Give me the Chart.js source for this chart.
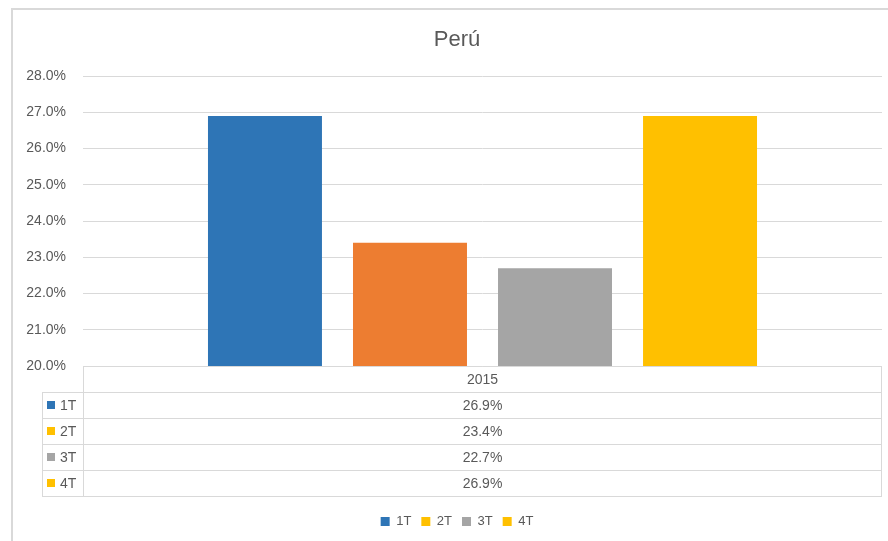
<!DOCTYPE html>
<html>
<head>
<meta charset="utf-8">
<script src="https://cdn.jsdelivr.net/npm/chart.js@4/dist/chart.umd.min.js"></script>
<style>
  html, body { margin: 0; padding: 0; background: #fff; }
  #wrap { width: 888px; height: 541px; position: relative; }
</style>
</head>
<body>
<div id="wrap"><canvas id="peru"></canvas></div>
<script>
// data
const categories = ["2015"];
const seriesNames = ["1T", "2T", "3T", "4T"];
const quarterValues = [26.9, 23.4, 22.7, 26.9];
const yTicks = [20, 21, 22, 23, 24, 25, 26, 27, 28];

const barColors = ["#2E75B6", "#ED7D31", "#A5A5A5", "#FFC000"];
const keyColors = ["#2E75B6", "#FFC000", "#A5A5A5", "#FFC000"]; // legend/table keys as in the original
const textColor = "#595959";
const lineColor = "#d9d9d9";
const fontFamily = "'Liberation Sans', Arial, sans-serif";

const fmt = (v) => v.toFixed(1) + "%";

// outer frame + data table under the plot
const tablePlugin = {
  id: "dataTable",
  afterLayout(chart) {
    // let the tick labels run left of the layout padding (labels are clipped to scale box)
    chart.scales.y.left = 14;
  },
  beforeDraw(chart) {
    const ctx = chart.ctx;
    ctx.save();
    ctx.strokeStyle = lineColor;
    ctx.lineWidth = 2;
    ctx.beginPath();
    ctx.moveTo(12, chart.height);
    ctx.lineTo(12, 9);
    ctx.lineTo(chart.width, 9);
    ctx.stroke();
    ctx.restore();
  },
  afterDraw(chart) {
    const ctx = chart.ctx;
    const area = chart.chartArea;
    const xScale = chart.scales.x;
    const rowH = 26;
    const keyLeft = 42;
    const top = area.bottom;
    const nRows = seriesNames.length + 1;
    const bottom = top + rowH * nRows;

    ctx.save();
    ctx.strokeStyle = lineColor;
    ctx.lineWidth = 1;
    ctx.beginPath();
    ctx.moveTo(area.left, top + 0.5);
    ctx.lineTo(area.right, top + 0.5);
    for (let r = 1; r <= nRows; r++) {
      const y = Math.round(top + r * rowH) + 0.5;
      ctx.moveTo(keyLeft, y);
      ctx.lineTo(area.right, y);
    }
    ctx.moveTo(area.left + 0.5, top);
    ctx.lineTo(area.left + 0.5, bottom);
    ctx.moveTo(area.right - 0.5, top);
    ctx.lineTo(area.right - 0.5, bottom);
    ctx.moveTo(keyLeft + 0.5, top + rowH);
    ctx.lineTo(keyLeft + 0.5, bottom);
    ctx.stroke();

    ctx.font = "14px " + fontFamily;
    ctx.fillStyle = textColor;
    ctx.textBaseline = "middle";
    ctx.textAlign = "center";
    const cx = xScale.getPixelForTick(0);
    ctx.fillText(categories[0], cx, top + rowH / 2 + 1);

    seriesNames.forEach((name, i) => {
      const yc = top + rowH * (i + 1) + rowH / 2 + 1;
      ctx.fillStyle = keyColors[i];
      ctx.fillRect(47, yc - 5, 8, 8);
      ctx.fillStyle = textColor;
      ctx.textAlign = "left";
      ctx.fillText(name, 60, yc);
      ctx.textAlign = "center";
      ctx.fillText(fmt(quarterValues[i]), cx, yc);
    });
    ctx.restore();
  },
};

new Chart(document.getElementById("peru"), {
  type: "bar",
  data: {
    labels: categories,
    datasets: seriesNames.map((name, i) => ({
      label: name,
      data: [quarterValues[i]],
      backgroundColor: barColors[i],
      borderWidth: 0,
      categoryPercentage: 0.726,
      barPercentage: 0.786,
    })),
  },
  options: {
    responsive: true,
    maintainAspectRatio: false,
    animation: false,
    layout: { padding: { left: 32, right: 6, top: 9, bottom: 3 } },
    scales: {
      x: {
        grid: { display: false },
        border: { display: false },
        ticks: { display: false },
        afterFit(scale) { scale.height = 139; },
      },
      y: {
        min: 20,
        max: 28,
        afterBuildTicks(scale) { scale.ticks = yTicks.map((v) => ({ value: v })); },
        afterFit(scale) { scale.width = 51; },
        grid: { color: lineColor, drawTicks: false },
        border: { display: false },
        ticks: {
          padding: 17,
          color: textColor,
          font: { family: fontFamily, size: 14 },
          callback: (v) => fmt(v),
        },
      },
    },
    plugins: {
      title: {
        display: true,
        text: "Perú",
        color: textColor,
        font: { family: fontFamily, size: 22, weight: "normal" },
        padding: { top: 18, bottom: 22.6 },
      },
      legend: {
        position: "bottom",
        labels: {
          boxWidth: 9,
          boxHeight: 9,
          padding: 10,
          color: textColor,
          font: { family: fontFamily, size: 13 },
          generateLabels(chart) {
            return Chart.defaults.plugins.legend.labels.generateLabels(chart).map((item, i) => ({
              ...item,
              fillStyle: keyColors[i],
              strokeStyle: keyColors[i],
              lineWidth: 0,
            }));
          },
        },
      },
      tooltip: { enabled: false },
    },
  },
  plugins: [tablePlugin],
});
</script>
</body>
</html>
